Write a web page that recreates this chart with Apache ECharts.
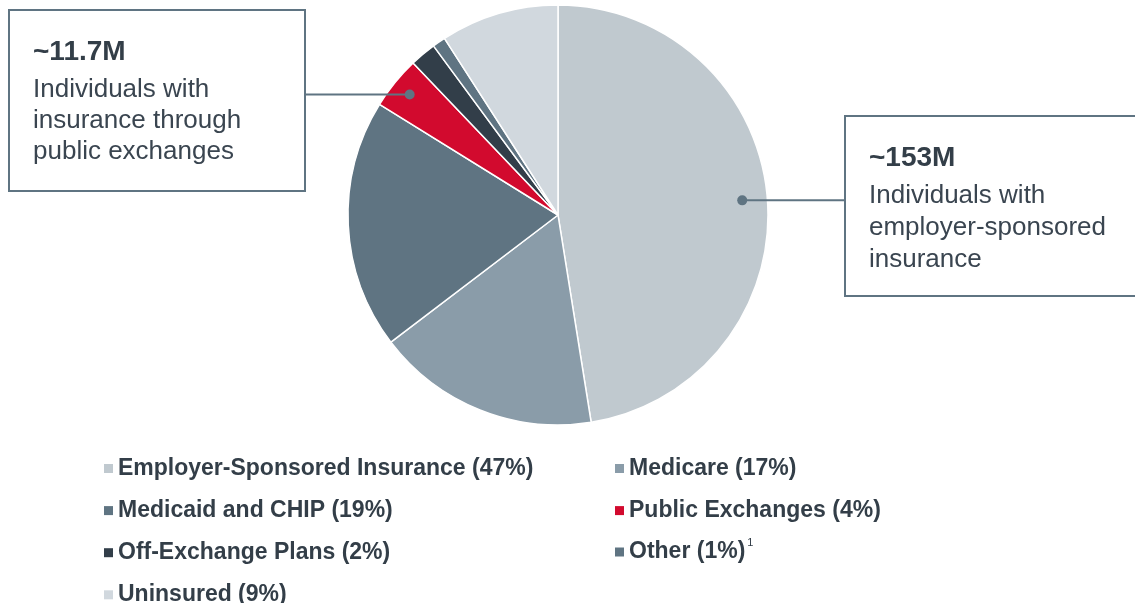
<!DOCTYPE html>
<html>
<head>
<meta charset="utf-8">
<title>Coverage</title>
<script src="https://cdn.jsdelivr.net/npm/echarts@6/dist/echarts.min.js"></script>
<style>
html, body { margin: 0; padding: 0; background: #fff; }
#main { width: 1135px; height: 603px; }
</style>
</head>
<body>
<div id="main"></div>
<script type="text/javascript">
// categories and shares (%)
var names = ['Employer-Sponsored Insurance', 'Medicare', 'Medicaid and CHIP', 'Public Exchanges', 'Off-Exchange Plans', 'Other', 'Uninsured'];
var shares = [47, 17, 19, 4, 2, 1, 9];
var colors = ['#c0c9cf', '#8a9ca9', '#5f7482', '#d20a2e', '#323e49', '#5f7482', '#d1d8de'];
var leftLegend = ['Employer-Sponsored Insurance', 'Medicaid and CHIP', 'Off-Exchange Plans', 'Uninsured'];
var rightLegend = ['Medicare', 'Public Exchanges'];
var footnoted = ['Other'];

// callouts
var calloutLeft = { idx: 3, head: '~11.7M', lines: ['Individuals with', 'insurance through', 'public exchanges'] };
var calloutRight = { idx: 0, head: '~153M', lines: ['Individuals with', 'employer-sponsored', 'insurance'] };

var cx = 558, cy = 215, R = 210;
var total = shares.reduce(function (a, b) { return a + b; }, 0);

function slicePoint(idx, frac) {
    var before = 0;
    for (var i = 0; i < idx; i++) before += shares[i];
    var a = (before + shares[idx] / 2) / total * 2 * Math.PI;
    return [cx + R * frac * Math.sin(a), cy - R * frac * Math.cos(a)];
}

var data = [];
for (var i = 0; i < names.length; i++) {
    data.push({ name: names[i], value: shares[i], itemStyle: { color: colors[i] } });
}

function legendText(name) {
    var v = shares[names.indexOf(name)];
    if (footnoted.indexOf(name) >= 0) return '{b|' + name + ' (' + v + '%)}{sup|1}';
    return '{b|' + name + ' (' + v + '%)}';
}

var fontFam = 'Liberation Sans, Arial, sans-serif';
function makeLegend(left, top, lh, items) {
    return {
        orient: 'vertical',
        left: left,
        top: top,
        height: 170,
        padding: 0,
        itemWidth: 9,
        itemHeight: 9,
        itemGap: 19.1,
        icon: 'rect',
        selectedMode: false,
        itemStyle: { borderWidth: 0 },
        formatter: legendText,
        data: items,
        textStyle: {
            rich: {
                b: { fontFamily: fontFam, fontWeight: 'bold', fontSize: 23, lineHeight: lh, color: '#333e48' },
                sup: { fontFamily: fontFam, fontSize: 11, lineHeight: 11, color: '#333e48', verticalAlign: 'top', padding: [0, 0, 0, 2] }
            }
        }
    };
}

function callout(c, box, frac, gap) {
    var p = slicePoint(c.idx, frac);
    var lineX = box.x < cx ? box.x + box.w : box.x;
    return [
        { type: 'rect', z: 100, shape: { x: box.x, y: box.y, width: box.w, height: box.h },
          style: { fill: '#fff', stroke: '#5f7482', lineWidth: 2 } },
        { type: 'line', z: 100, shape: { x1: lineX, y1: p[1], x2: p[0], y2: p[1] },
          style: { stroke: '#5f7482', lineWidth: 2 } },
        { type: 'circle', z: 100, shape: { cx: p[0], cy: p[1], r: 5 }, style: { fill: '#5f7482' } },
        { type: 'text', z: 100, x: box.x + 24, y: box.y + 28,
          style: { text: c.head, fill: '#333e48', font: 'bold 28px "Liberation Sans", Arial, sans-serif' } },
        { type: 'text', z: 100, x: box.x + 24, y: box.y + 64,
          style: { text: c.lines.join('\n'), fill: '#3a4550', lineHeight: gap,
                   font: '26px "Liberation Sans", Arial, sans-serif' } }
    ];
}

var myChart = echarts.init(document.getElementById('main'));
var option = {
    backgroundColor: '#fff',
    animation: false,
    legend: [
        makeLegend(104, 457, 22, leftLegend),
        makeLegend(615, 457, 22, rightLegend),
        makeLegend(615, 537, 30, footnoted)
    ],
    series: [{
        type: 'pie',
        center: [cx, cy],
        radius: R,
        startAngle: 90,
        clockwise: true,
        label: { show: false },
        labelLine: { show: false },
        emphasis: { disabled: true },
        itemStyle: { borderColor: '#fff', borderWidth: 1.5 },
        data: data
    }],
    graphic: callout(calloutLeft, { x: 9, y: 10, w: 296, h: 181 }, 0.91, 31)
        .concat(callout(calloutRight, { x: 845, y: 116, w: 300, h: 180 }, 0.88, 32))
};
myChart.setOption(option);
</script>
</body>
</html>
